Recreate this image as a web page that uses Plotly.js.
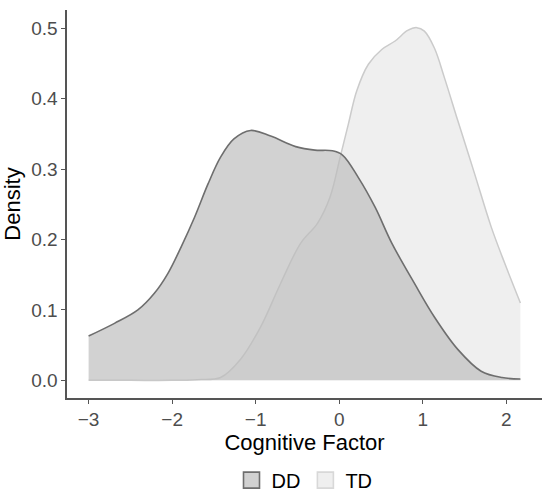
<!DOCTYPE html>
<html>
<head>
<meta charset="utf-8">
<script src="https://cdn.plot.ly/plotly-3.0.1.min.js"></script>
<style>html,body{margin:0;padding:0;background:#fff;}#chart{width:550px;height:496px;}</style>
</head>
<body>
<div id="chart"></div>
<script>
const seriesNames = ["DD", "TD"];
const ddX = [-3.0, -2.69, -2.41, -2.21, -2.05, -1.89, -1.73, -1.57, -1.42, -1.26, -1.06, -0.82, -0.52, -0.29, -0.08, 0.04, 0.23, 0.43, 0.63, 0.9, 1.14, 1.42, 1.7, 1.95, 2.17];
const ddY = [0.063, 0.081, 0.100, 0.124, 0.152, 0.190, 0.232, 0.279, 0.317, 0.343, 0.355, 0.347, 0.332, 0.327, 0.326, 0.320, 0.288, 0.246, 0.195, 0.138, 0.090, 0.044, 0.013, 0.004, 0.002];
const tdX = [-3.0, -2.5, -2.0, -1.7, -1.42, -1.18, -0.94, -0.70, -0.46, -0.26, -0.11, 0.01, 0.11, 0.21, 0.35, 0.51, 0.67, 0.82, 0.93, 1.02, 1.14, 1.26, 1.42, 1.62, 1.82, 1.98, 2.17];
const tdY = [0.0, 0.0, 0.0, 0.001, 0.004, 0.030, 0.076, 0.138, 0.195, 0.223, 0.260, 0.316, 0.364, 0.411, 0.449, 0.470, 0.482, 0.497, 0.501, 0.496, 0.472, 0.430, 0.369, 0.294, 0.218, 0.167, 0.110];
const xTicks = [-3, -2, -1, 0, 1, 2];
const xTickLabels = ["\u22123", "\u22122", "\u22121", "0", "1", "2"];
const yTicks = [0, 0.1, 0.2, 0.3, 0.4, 0.5];
const yTickLabels = ["0.0", "0.1", "0.2", "0.3", "0.4", "0.5"];

const font = "Liberation Sans, Arial, Helvetica, sans-serif";
const ddFill = "rgba(188,188,188,0.68)";
const ddLine = "#6e6e6e";
const tdFill = "#efefef";
const tdLine = "#cbcbcb";

const traces = [
  {
    x: tdX, y: tdY, name: seriesNames[1], type: "scatter", mode: "lines",
    fill: "tozeroy", fillcolor: tdFill, showlegend: false,
    line: {color: tdLine, width: 1.5, shape: "spline", smoothing: 1}
  },
  {
    x: ddX, y: ddY, name: seriesNames[0], type: "scatter", mode: "lines",
    fill: "tozeroy", fillcolor: ddFill, showlegend: false,
    line: {color: ddLine, width: 1.6, shape: "spline", smoothing: 1}
  },
  {
    x: [null], y: [null], name: seriesNames[0], type: "scatter", mode: "markers",
    marker: {symbol: "square", size: 16, color: "#d1d1d1", line: {color: ddLine, width: 1.6}},
    showlegend: true, hoverinfo: "skip"
  },
  {
    x: [null], y: [null], name: seriesNames[1], type: "scatter", mode: "markers",
    marker: {symbol: "square", size: 16, color: tdFill, line: {color: "#d8d8d8", width: 1.6}},
    showlegend: true, hoverinfo: "skip"
  }
];

const layout = {
  width: 550, height: 496,
  margin: {l: 67, r: 8, t: 10, b: 98},
  paper_bgcolor: "#ffffff", plot_bgcolor: "#ffffff",
  showlegend: true,
  legend: {
    orientation: "h", x: 0.5, xanchor: "center", xref: "paper",
    yref: "container", y: 0.032, yanchor: "middle",
    font: {family: font, size: 20, color: "#000"},
    traceorder: "normal", itemwidth: 30, tracegroupgap: 0
  },
  xaxis: {
    range: [-3.2585, 2.4285], automargin: false,
    tickvals: xTicks, ticktext: xTickLabels,
    showgrid: false, zeroline: false,
    showline: true, linecolor: "#555", linewidth: 1.6,
    ticks: "outside", ticklen: 4, tickcolor: "#555", tickwidth: 1,
    tickfont: {family: font, size: 19, color: "#4d4d4d"},
    title: {text: "Cognitive Factor", font: {family: font, size: 22, color: "#000"}, standoff: 2}
  },
  yaxis: {
    range: [-0.02505, 0.52605], automargin: false,
    tickvals: yTicks, ticktext: yTickLabels,
    showgrid: false, zeroline: false,
    showline: true, linecolor: "#555", linewidth: 1.6,
    ticks: "outside", ticklen: 4, tickcolor: "#555", tickwidth: 1,
    tickfont: {family: font, size: 19, color: "#4d4d4d"},
    title: {text: "Density", font: {family: font, size: 22, color: "#000"}, standoff: 4}
  }
};

Plotly.newPlot("chart", traces, layout, {displayModeBar: false, staticPlot: true});
</script>
</body>
</html>
